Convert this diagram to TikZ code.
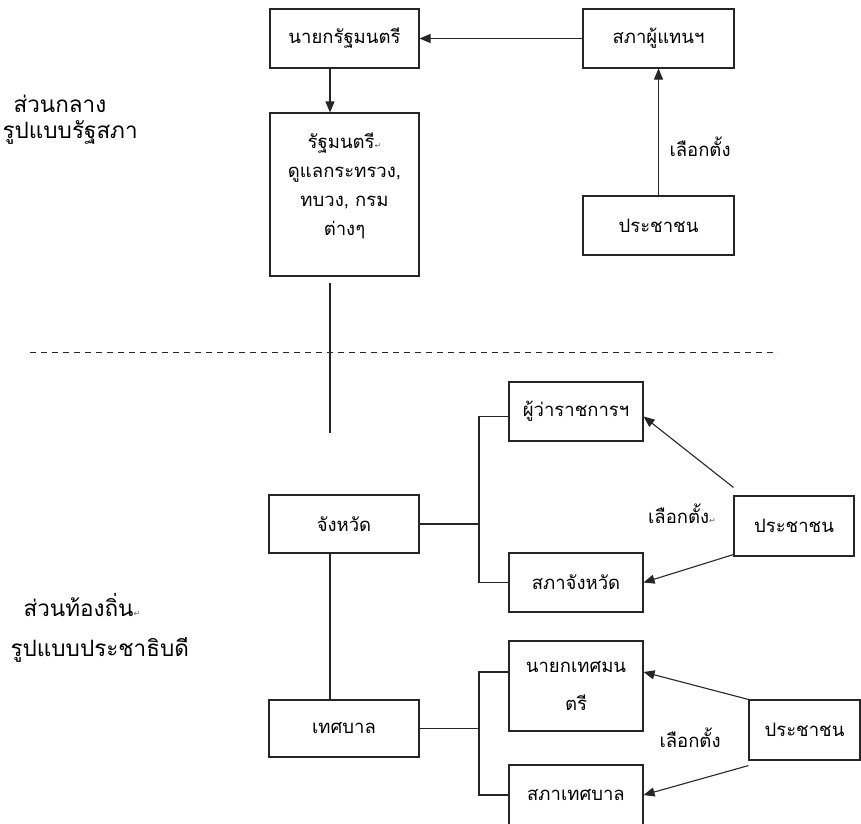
\documentclass[tikz,border=0pt]{standalone}
\usepackage{fontspec}
\setmainfont[Script=Thai]{Loma}
\newfontfamily\symf{DejaVu Sans}
\usetikzlibrary{arrows.meta,calc}
\newcommand{\thtxt}{\fontsize{18.5}{29}\selectfont}
\newcommand{\bigtxt}{\fontsize{22.5}{29}\selectfont}
\newcommand{\retmark}{{\symf\fontsize{8}{8}\selectfont\textcolor{black!60}{↵}}}
\begin{document}
\begin{tikzpicture}[x=1pt,y=-1pt,line width=1.1pt,
  box/.style={draw=black!85,rectangle,inner sep=0pt,font=\thtxt,align=center},
  arr/.style={draw=black!85,-{Triangle[length=11pt,width=9pt]}},
  ln/.style={draw=black!85},
  txt/.style={inner sep=0pt,font=\thtxt,align=center},
  lbl/.style={inner sep=0pt,font=\bigtxt,anchor=west}]
\clip (0,0) rectangle (861,823);
% ---- upper part ----
\node[box,minimum width=149pt,minimum height=59pt] (pm) at (344.5,38.5) {นายกรัฐมนตรี};
\node[box,minimum width=149pt,minimum height=163pt] (min) at (344.5,194.5) {};
\node[txt] (mintxt) at (344.5,186) {รัฐมนตรี\retmark\\ดูแลกระทรวง,\\ทบวง, กรม\\ต่างๆ};
\node[box,minimum width=151pt,minimum height=59pt] (hor) at (658.5,38.5) {สภาผู้แทนฯ};
\node[box,minimum width=151pt,minimum height=59pt] (ppla) at (658.5,225.5) {ประชาชน};
\coordinate (cx) at (330,0);
\draw[arr] (hor.west) -- (pm.east);
\draw[arr] (pm.south -| cx) -- (min.north -| cx);
\draw[arr] (ppla.north) -- (hor.south);
\node[txt] (ela) at (700,147) {เลือกตั้ง};
\node[lbl] (l1) at (13,104) {ส่วนกลาง};
\node[lbl] (l2) at (2,132) {รูปแบบรัฐสภา};
% ---- divider ----
\coordinate (d1) at (30,352.5);
\coordinate (d2) at (778,352.5);
\draw[draw=black!85,line width=1.3pt,dash pattern=on 6pt off 5pt] (d1) -- (d2);
\coordinate (v1) at (330,283);
\coordinate (v2) at (330,433);
\draw[ln] (v1) -- (v2);
% ---- lower part ----
\node[box,minimum width=150pt,minimum height=58pt] (prov) at (344,524) {จังหวัด};
\node[box,minimum width=150pt,minimum height=57pt] (muni) at (344,728.5) {เทศบาล};
\node[box,minimum width=134pt,minimum height=59pt] (gov) at (576,411.5) {ผู้ว่าราชการฯ};
\node[box,minimum width=134pt,minimum height=59pt] (pco) at (576,582.5) {สภาจังหวัด};
\node[box,minimum width=134pt,minimum height=90pt] (may) at (576,686) {นายกเทศมน\\[8pt]ตรี};
\node[box,minimum width=134pt,minimum height=60pt] (mco) at (576,795) {สภาเทศบาล};
\node[box,minimum width=120pt,minimum height=60pt] (pplb) at (794,526) {ประชาชน};
\node[box,minimum width=111pt,minimum height=60pt] (pplc) at (804.5,730) {ประชาชน};
\coordinate (bx) at (479,0);
\draw[ln] (prov.south -| cx) -- (muni.north -| cx);
\draw[ln] (prov.east) -- (prov.east -| bx);
\draw[ln] ([yshift=-5pt]gov.west) -- ([yshift=-5pt]gov.west -| bx) -- (pco.west -| bx) -- (pco.west);
\draw[ln] (muni.east) -- (muni.east -| bx);
\draw[ln] ([yshift=14pt]may.west) -- ([yshift=14pt]may.west -| bx) -- (mco.west -| bx) -- (mco.west);
\draw[arr] ([yshift=8pt]pplb.north west) -- ([yshift=-5pt]gov.east);
\draw[arr] ([yshift=2pt]pplb.south west) -- (pco.east);
\draw[arr] (pplc.north west) -- ([yshift=14pt]may.east);
\draw[arr] ([yshift=-5pt]pplc.south west) -- (mco.east);
\node[txt] (elb) at (682,514) {เลือกตั้ง\retmark};
\node[txt] (elc) at (690,738) {เลือกตั้ง};
\node[lbl] (l3) at (23,605) {ส่วนท้องถิ่น\retmark};
\node[lbl] (l4) at (10,650) {รูปแบบประชาธิบดี};
\end{tikzpicture}
\end{document}
